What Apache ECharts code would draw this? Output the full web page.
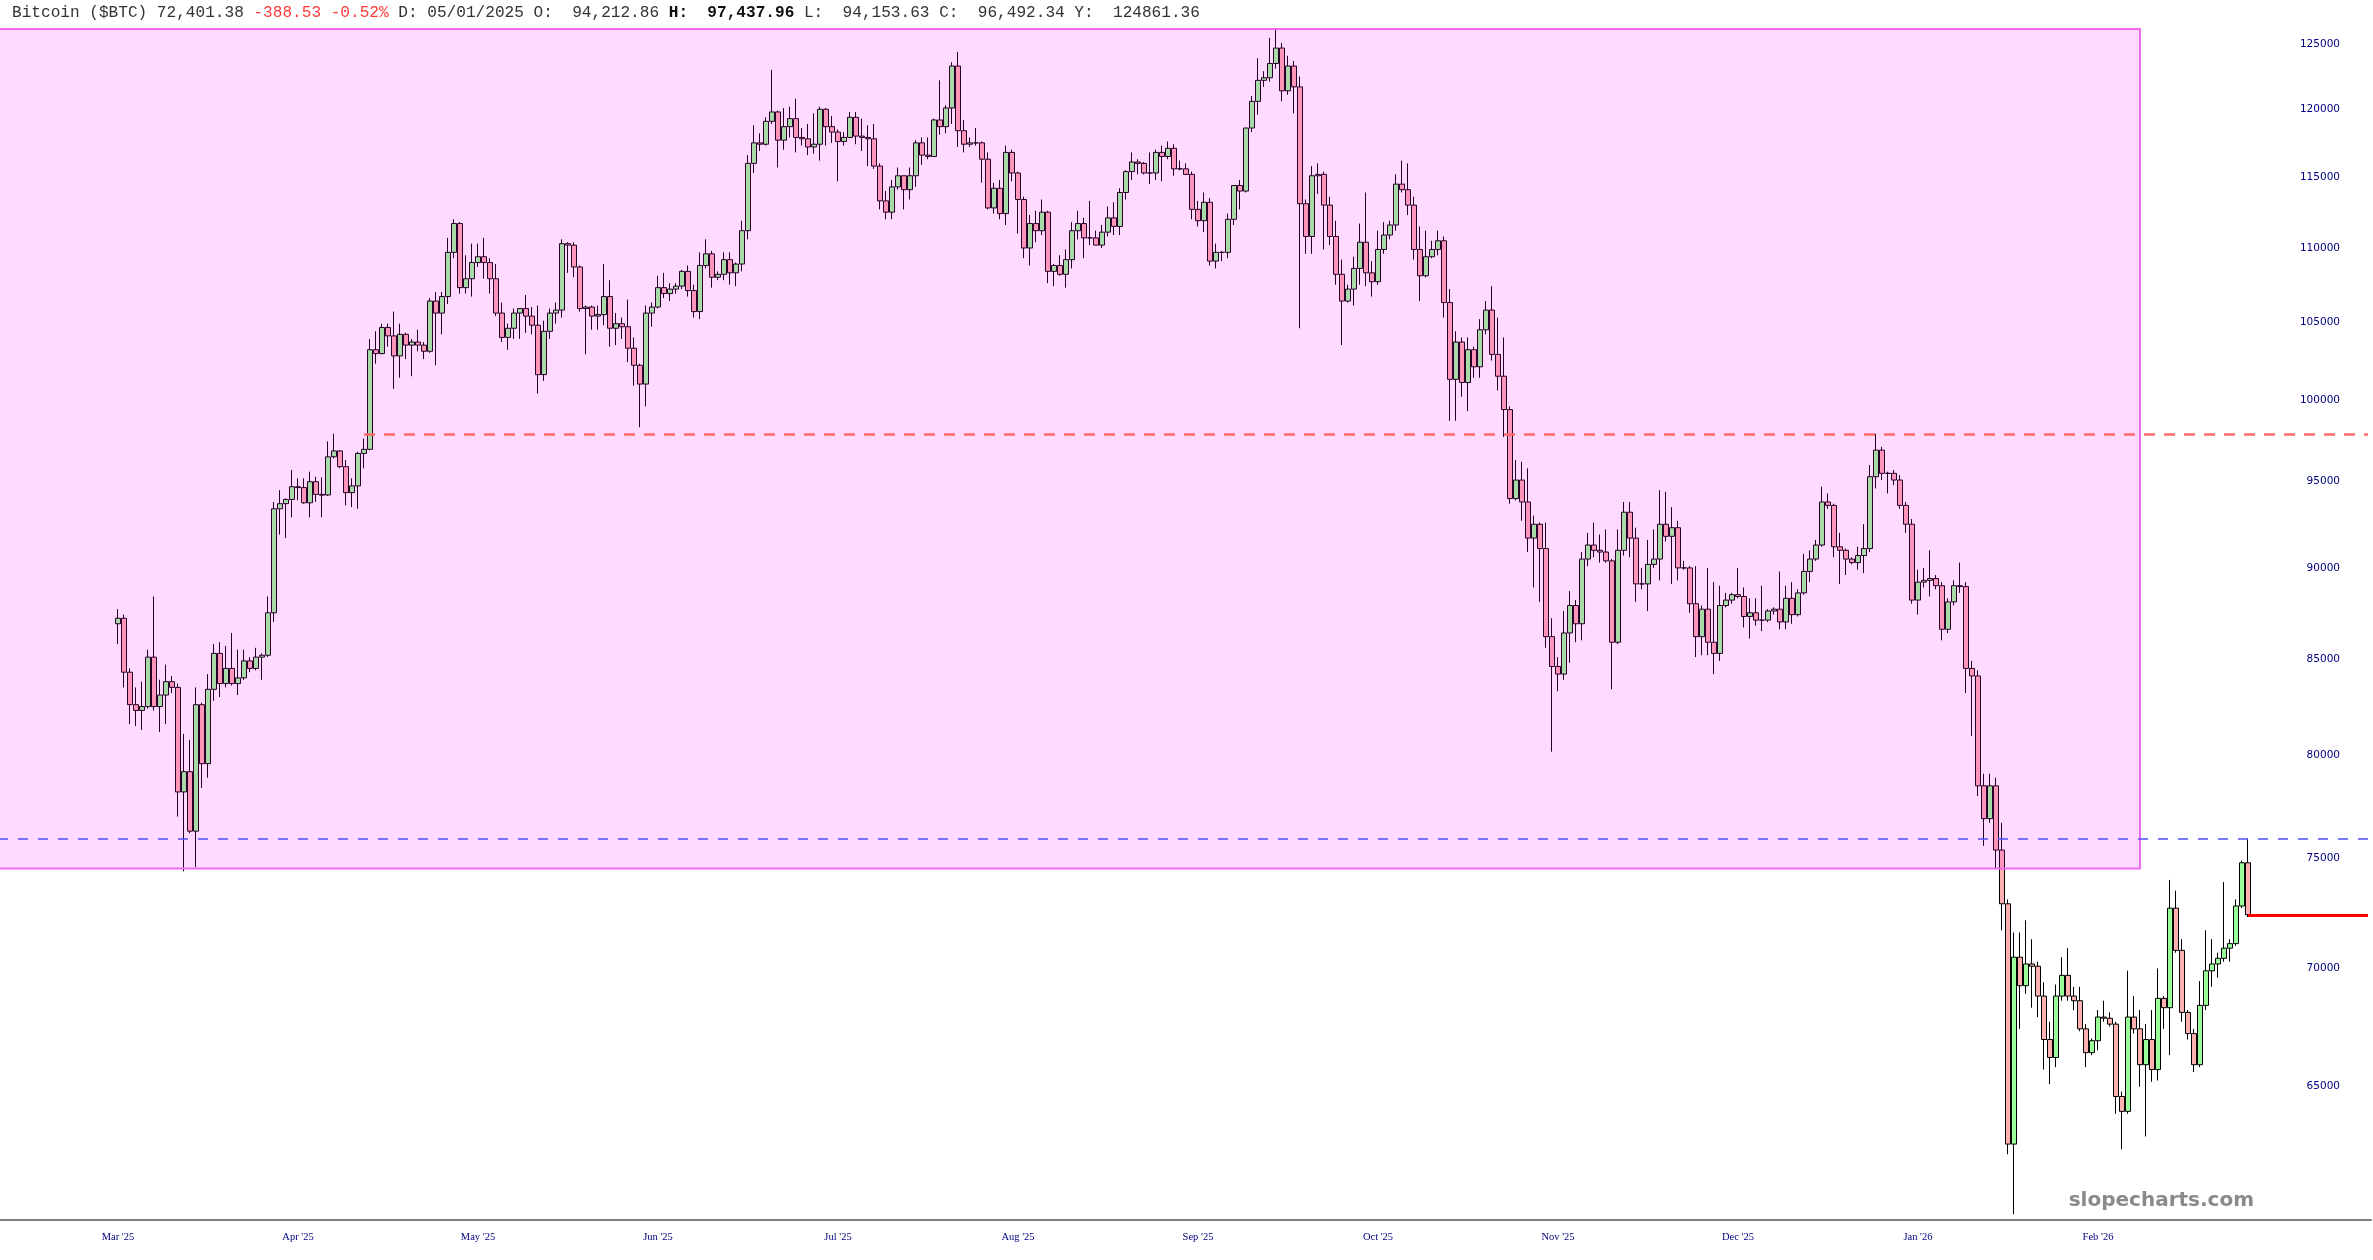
<!DOCTYPE html>
<html><head><meta charset="utf-8">
<script src="https://cdn.jsdelivr.net/npm/echarts@6/dist/echarts.min.js"></script>
<style>html,body{margin:0;padding:0;background:#fff}#c{width:2373px;height:1260px}</style>
</head><body><div id="c"></div>
<script>
// Daily candles, first candle dated 2025-03-27
const firstDate = '2025-03-27';
const opens = [
86900,87200,84300,82600,82300,82500,85100,82500,83100,83800,
83500,78200,79200,76300,82600,79600,83400,85300,83700,84500,
83700,84000,84900,84500,85100,85200,87500,93400,93700,93950,
94700,94650,93750,95000,94250,94212.86,96500,96850,95900,94350,
94750,96700,96950,103200,102950,104650,104100,102800,104200,103500,
103700,103500,103100,106400,105600,106700,109700,111700,107300,107900,
109000,109400,109000,107900,105600,104000,104600,105600,105900,105400,
104800,101600,104400,105600,105800,110300,110200,108700,105900,106000,
105400,105500,106700,104600,104900,104700,103300,102200,101000,105600,
106000,107300,106900,107200,107400,108400,107100,105700,108800,109600,
108000,108200,109200,108300,108900,111200,116000,117500,117400,119100,
119800,117700,118700,119300,117900,117800,117200,117400,120000,118700,
118300,117600,117900,119400,118000,117900,117800,115800,113300,112500,
114300,115100,114100,115100,117500,116600,116500,119200,118700,120100,
123300,118400,117400,117500,117500,116300,112800,114200,112400,116800,
115300,113400,110000,111700,111200,112500,108400,108800,108200,109200,
111200,111700,110700,110700,110200,111100,112100,111500,113900,115400,
116100,116000,115300,115300,116800,116500,117100,115600,115600,115200,
112700,111900,113200,109100,109700,109700,112000,114400,114000,118600,
120600,122200,122400,123500,124700,121400,123300,121700,113100,110800,
115100,115200,113000,110800,108200,106400,107200,108600,110400,108300,
107700,109900,110900,111600,114500,114100,113000,109900,108100,109400,
109900,110500,106300,101300,103700,101100,103200,102100,104500,105800,
102900,101500,99400,94000,95100,93800,91700,92500,91100,86200,
84600,84200,86400,87900,86900,90500,91300,91000,90900,90400,
85900,91000,93200,91700,89100,89100,90200,90500,92500,91800,
92300,90000,90000,88000,86200,87700,85900,85300,87900,88200,
88500,88400,87300,87500,87100,87100,87600,87700,87000,88300,
87400,88600,89800,90500,91300,93800,93600,91200,91000,90500,
90300,90700,91100,95300,96900,95500,95500,95100,93600,92500,
88200,89200,89300,89400,89000,86600,88100,89000,88950,84500,
84100,78500,76900,78500,75400,72900,62700,70500,69250,70200,
70100,68800,66950,66200,68800,69700,68800,68600,67400,66400,
66900,67900,67850,67600,64600,64000,67900,67400,65900,66950,
65700,68700,68300,72700,70800,68100,67200,65900,68400,69900,
70200,70450,70900,71100,72800,74800];
const highs = [
87700,87400,84500,83500,83800,85500,88400,83900,84700,84100,
83700,81100,80800,83500,82700,84200,85800,85900,85700,86400,
85500,85500,85100,85600,85300,88400,93800,94500,94000,95700,
95200,95200,95600,95300,95250,97437.96,97900,96900,96300,95200,
96800,97600,103900,104400,104900,104900,105700,104900,104300,103900,
104500,103700,106600,107000,107000,110700,112000,111800,109500,110300,
110300,110700,109300,108900,106300,104900,105900,105900,106800,106000,
106100,105100,105900,106300,110600,110400,110400,108800,106100,106100,
106100,108900,107800,105600,105300,106500,104000,102300,106100,106300,
108100,108300,107600,107600,108500,108800,107500,109700,110600,109800,
108400,109700,109700,109000,111900,116600,118800,118200,119400,123000,
119900,120100,120200,120800,118600,118900,119700,120200,120100,119500,
118500,118300,119800,119800,119300,118800,118900,116000,114000,114800,
115700,115100,115700,117700,117900,117900,119300,122200,120300,123600,
124400,119200,117900,118600,117600,116800,114600,114800,117300,117000,
115400,113600,112300,112600,113400,112600,108900,109500,109900,111800,
112600,112100,113300,111200,111600,112900,113200,114200,115500,116800,
116300,116100,116800,117000,117300,117600,117400,116200,116000,115400,
113300,113900,113500,110300,109800,112400,114400,114800,118600,121000,
123900,122900,125500,126200,125100,124100,123700,122500,113400,115800,
116000,115400,113600,111900,109200,107500,109400,111700,113900,109100,
111200,111800,111900,115200,116200,116000,113600,111500,111200,110500,
111200,110800,107200,104400,104000,104000,103400,105200,106400,107400,
105300,104000,99600,96300,96200,95800,93000,92600,92600,87200,
85100,87600,88700,88200,90900,92000,92600,91900,92200,90500,
92200,93800,93800,92300,90000,91600,92200,94500,94400,93500,
92700,90400,90100,90100,87900,90000,89200,89000,88600,88600,
90000,88900,88300,88300,89000,87700,87800,89800,89000,89200,
88800,90800,91000,91600,94700,94300,93700,92000,91100,90600,
91200,92500,96000,97900,97100,95600,95700,95400,93800,92800,
89900,90000,91000,89600,89200,88300,89300,90300,89200,84900,
84400,79100,79100,78900,76700,73100,71600,71600,72150,71300,
70300,69400,67700,69300,70500,70900,69200,69200,67600,67000,
68200,68600,68100,67700,64800,69900,68800,68200,67600,68200,
70000,68800,74000,73500,71300,68200,67400,69450,71700,71300,
70700,73900,71300,73100,74900,75950];
const lows = [
85800,83500,81600,81500,81300,82400,82300,81200,81600,83200,
77000,74400,76200,74600,78400,78900,82800,83000,83500,83600,
83100,83900,84300,84400,83900,85100,87000,91900,91700,92900,
93900,93700,92900,93800,92900,94153.63,96400,95800,93600,93500,
93400,95800,96900,102300,102900,103400,100700,101400,102600,101500,
103100,102600,103000,102200,104200,106200,109300,106900,106900,106700,
108700,107900,106900,105400,103700,103200,103900,103900,104300,104200,
100400,101200,103900,104900,105300,108300,108000,105700,102900,104500,
104500,104800,103400,103500,103900,102400,100900,98300,99600,104700,
105900,106600,106400,106900,107200,106700,105300,105200,108600,107300,
107800,107800,107500,107400,108400,110600,115300,116900,117300,118900,
115700,117000,117900,116800,117300,116600,116700,116200,117300,117500,
114700,117300,117900,117400,116900,115800,115600,112700,112000,112000,
114100,112700,113400,114300,115900,116300,116500,118100,118200,118900,
117200,116800,117200,117300,114600,112700,112400,112000,111600,114700,
111000,109300,108800,110400,110900,107600,107400,108100,107300,108600,
110600,109300,110200,110200,110000,110800,110900,110900,113400,114800,
115200,115200,114500,114800,114700,116300,115100,115500,115200,112000,
111500,111100,108800,108600,109100,109300,111600,112700,113900,118300,
119600,121700,122100,123100,120600,121100,119700,104600,109600,109600,
113800,109900,110200,107500,103500,106300,106100,107500,107400,106700,
107500,109600,110600,111200,113900,112300,109200,106400,108000,109300,
109500,105300,98700,98700,100200,99300,101400,101400,104200,102500,
100600,97700,93700,93900,92700,90900,88900,88100,85600,80200,
83300,83900,84800,85900,86000,90100,90600,90300,90300,83400,
85800,90700,90600,88100,88800,87600,90000,89300,91500,89100,
89300,89900,87500,85100,85200,85200,84200,84900,87800,88000,
88300,86700,86100,86800,86500,87000,87400,86600,86600,86900,
87300,88500,89200,90400,91200,93400,90600,89100,89600,90200,
89900,89700,90900,94600,95100,94300,94800,93400,92000,88000,
87400,88900,88400,88800,86000,86400,87900,88600,83200,81000,
78000,75600,76700,74500,71700,62300,60000,67400,68900,68300,
67900,65700,65100,65800,68600,68600,68200,67300,65800,66300,
66500,67700,67500,63900,62500,63900,67200,65000,63000,65200,
65250,67400,66300,70700,67700,66950,65600,65800,68200,69200,
69600,70300,70300,71000,72700,72300];
const closes = [
87200,84300,82600,82300,82500,85100,82500,83100,83800,83500,
78200,79200,76300,82600,79600,83400,85300,83700,84500,83700,
84000,84900,84500,85100,85200,87500,93400,93700,93950,94700,
94650,93750,95000,94250,94200,96492.34,96850,95900,94350,94750,
96700,96950,103200,102950,104650,104100,102800,104200,103500,103700,
103500,103100,106400,105600,106700,109700,111700,107300,107900,109000,
109400,109000,107900,105600,104000,104600,105600,105900,105400,104800,
101600,104400,105600,105800,110300,110200,108700,105900,106000,105400,
105500,106700,104600,104900,104700,103300,102200,101000,105600,106000,
107300,106900,107200,107400,108400,107100,105700,108800,109600,108000,
108200,109200,108300,108900,111200,116000,117500,117400,119100,119800,
117700,118700,119300,117900,117800,117200,117400,120000,118700,118300,
117600,117900,119400,118000,117900,117800,115800,113300,112500,114300,
115100,114100,115100,117500,116600,116500,119200,118700,120100,123300,
118400,117400,117500,117500,116300,112800,114200,112400,116800,115300,
113400,110000,111700,111200,112500,108400,108800,108200,109200,111200,
111700,110700,110700,110200,111100,112100,111500,113900,115400,116100,
116000,115300,115300,116800,116500,117100,115600,115600,115200,112700,
111900,113200,109100,109700,109700,112000,114400,114000,118600,120600,
122200,122400,123500,124700,121400,123300,121700,113100,110800,115100,
115200,113000,110800,108200,106400,107200,108600,110400,108300,107700,
109900,110900,111600,114500,114100,113000,109900,108100,109400,109900,
110500,106300,101300,103700,101100,103200,102100,104500,105800,102900,
101500,99400,94000,95100,93800,91700,92500,91100,86200,84600,
84200,86400,87900,86900,90500,91300,91000,90900,90400,85900,
91000,93200,91700,89100,89100,90200,90500,92500,91800,92300,
90000,90000,88000,86200,87700,85900,85300,87900,88200,88500,
88400,87300,87500,87100,87100,87600,87700,87000,88300,87400,
88600,89800,90500,91300,93800,93600,91200,91000,90500,90300,
90700,91100,95300,96900,95500,95500,95100,93600,92500,88200,
89200,89300,89400,89000,86600,88100,89000,88950,84500,84100,
78500,76900,78500,75400,72900,62700,70500,69250,70200,70100,
68800,66950,66200,68800,69700,68800,68600,67400,66400,66900,
67900,67850,67600,64600,64000,67900,67400,65900,66950,65700,
68700,68300,72700,70800,68100,67200,65900,68400,69900,70200,
70450,70900,71100,72800,74800,72401.38];

const yTicks = [65000,70000,75000,80000,85000,90000,95000,100000,105000,110000,115000,120000,125000];
const xTickLabels = ["Mar '25","Apr '25","May '25","Jun '25","Jul '25","Aug '25","Sep '25","Oct '25","Nov '25","Dec '25","Jan '26","Feb '26"];
const boxHigh = 126200, boxLow = 74530;
const resistanceLevel = 97900;
const supportLevel = 75950;
const lastPrice = 72401.38;
const resistanceStartCandle = 41;
const boxEndCandle = 337;

// layout helpers (empty slots left/right of the candles)
const padBefore = 20, padAfter = 20, labelEvery = 30;
const N = opens.length;
const total = padBefore + N + padAfter;
const t0 = Date.parse(firstDate + 'T00:00:00Z');
const cats = [];
for (let i = 0; i < total; i++) cats.push(new Date(t0 + (i - padBefore) * 86400000).toISOString().slice(0, 10));
const candles = cats.map((c, i) => { const k = i - padBefore; return (k >= 0 && k < N) ? [opens[k], closes[k], lows[k], highs[k]] : '-'; });
const cat = k => cats[padBefore + k];
const lastCat = cats[total - 1];

const chart = echarts.init(document.getElementById('c'), null, {renderer: 'canvas'});
const mono = 'Liberation Mono';
const hs = 16.1;
chart.setOption({
  animation: false,
  backgroundColor: '#ffffff',
  title: {
    left: 12, top: 5, padding: 0,
    text: '{n|Bitcoin ($BTC) 72,401.38 }{r|-388.53 -0.52%}{n| D: 05/01/2025 O:  94,212.86 }{b|H:  97,437.96}{n| L:  94,153.63 C:  96,492.34 Y:  124861.36}',
    textStyle: {
      fontWeight: 'normal',
      rich: {
        n: {fontFamily: mono, fontSize: hs, color: '#333333', fontWeight: 'normal'},
        r: {fontFamily: mono, fontSize: hs, color: '#ff3b3b', fontWeight: 'normal'},
        b: {fontFamily: mono, fontSize: hs, color: '#111111', fontWeight: 'bold'}
      }
    }
  },
  graphic: [{
    type: 'text', right: 119, top: 1191, silent: true,
    style: {text: 'slopecharts.com', font: 'bold 20px "DejaVu Sans"', fill: '#8a8a8a'}
  }],
  grid: {left: -5, right: 2, top: 29, bottom: 40, containLabel: false, outerBoundsMode: 'none'},
  xAxis: {
    type: 'category', data: cats, boundaryGap: true,
    axisLine: {lineStyle: {color: '#808080', width: 2}},
    axisTick: {show: false},
    splitLine: {show: false},
    axisLabel: {
      interval: (i) => { const k = i - padBefore; return k >= 0 && k % labelEvery === 0 && k / labelEvery < xTickLabels.length; },
      formatter: (v, i) => { const k = i - padBefore; return xTickLabels[k / labelEvery] || ''; },
      color: '#000080', fontFamily: 'Liberation Serif', fontSize: 10.5, margin: 12
    }
  },
  yAxis: {
    type: 'log', logBase: 10, min: 59784, max: 126200, position: 'right', scale: true,
    axisLine: {show: false}, axisTick: {show: false}, splitLine: {show: false},
    axisLabel: {
      inside: true, margin: 31, customValues: yTicks,
      formatter: v => String(Math.round(v)),
      color: '#000080', fontFamily: 'DejaVu Sans', fontSize: 10.5
    }
  },
  series: [{
    type: 'candlestick',
    data: candles,
    barWidth: 5,
    itemStyle: {color: '#99ff99', color0: '#ffb0b0', borderColor: '#000000', borderColor0: '#000000', borderWidth: 1},
    markArea: {
      z: 10, silent: true,
      itemStyle: {color: 'rgba(255,0,255,0.15)', borderColor: '#f06af0', borderWidth: 2},
      label: {show: false},
      data: [[{coord: [cats[0], boxHigh]}, {coord: [cat(boxEndCandle), boxLow]}]]
    },
    markLine: {
      z: 11, silent: true, symbol: ['none', 'none'], label: {show: false},
      data: [
        [{coord: [cats[0], supportLevel], lineStyle: {color: '#5050ff', width: 1.5, type: [10, 10]}}, {coord: [lastCat, supportLevel]}],
        [{coord: [cat(resistanceStartCandle), resistanceLevel], lineStyle: {color: '#ff6b6b', width: 2.5, type: [11, 9]}}, {coord: [lastCat, resistanceLevel]}],
        [{coord: [cat(N - 1), lastPrice], lineStyle: {color: '#ff0000', width: 3, type: 'solid'}}, {coord: [lastCat, lastPrice]}]
      ]
    }
  }]
});
</script>
</body></html>
